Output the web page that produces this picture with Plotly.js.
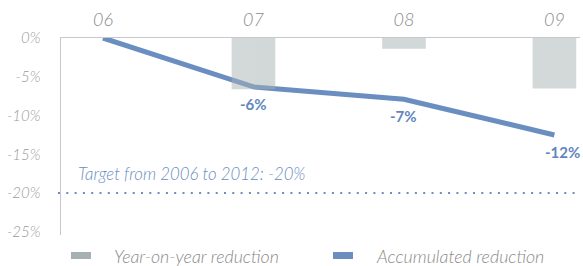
<!DOCTYPE html>
<html>
<head>
<meta charset="utf-8">
<script src="https://cdn.plot.ly/plotly-3.0.1.min.js"></script>
<style>html,body{margin:0;padding:0;background:#fff;}#chart{width:583px;height:266px;}</style>
</head>
<body>
<div id="chart"></div>
<script>
const years = ['06', '07', '08', '09'];
const yearOnYear = [null, -6.6, -1.4, -6.5];
const accumulated = [0, -6.3, -7.9, -12.5];
const accumulatedLabels = ['', '-6%', '-7%', '-12%'];
const yTickVals = [0, -5, -10, -15, -20, -25];
const yTickText = ['0%', '-5%', '-10%', '-15%', '-20%', '-25%'];
const targetValue = -20;
const targetText = 'Target from 2006 to 2012: -20%';
const seriesNames = ['Year-on-year reduction', 'Accumulated reduction'];

const blue = '#6a8ec0';
const grey = '#a7b1b3';
const fontFam = 'Lato, "Open Sans", sans-serif';

const xr = [-0.279, 3.17];
const yr = [-25.4, 0];

const W = 583, H = 266, ML = 61, MR = 3, MT = 38, MB = 31;
const pw = W - ML - MR, ph = H - MT - MB;
const px = v => (v - ML) / pw;
const py = v => (H - MB - v) / ph;

const traces = [
  {
    type: 'scatter', mode: 'lines', x: years, y: accumulated,
    line: {color: blue, width: 5}, xaxis: 'x', yaxis: 'y',
    showlegend: false, hoverinfo: 'skip'
  },
  {
    type: 'bar', x: years, y: yearOnYear, width: 0.29,
    marker: {color: grey, line: {width: 0}}, opacity: 0.5,
    xaxis: 'x2', yaxis: 'y2', showlegend: false, hoverinfo: 'skip'
  }
];

const annotations = [];
years.forEach((yv, i) => {
  if (accumulatedLabels[i]) {
    annotations.push({
      x: i, y: accumulated[i], xref: 'x', yref: 'y', text: '<b>' + accumulatedLabels[i] + '</b>',
      showarrow: false, yanchor: 'top', yshift: -6, xshift: i === 3 ? 8 : 0,
      font: {family: fontFam, size: 15, color: '#5f86bd'}
    });
  }
});
annotations.push({
  x: px(76), xref: 'paper', y: targetValue, yref: 'y', text: targetText,
  showarrow: false, xanchor: 'left', yanchor: 'bottom', yshift: 7,
  font: {family: fontFam, size: 16.8, color: '#6a8ec0', style: 'italic', weight: 300}
});

const legendItems = [
  {name: seriesNames[0], color: grey, sx: 71, tx: 112},
  {name: seriesNames[1], color: blue, sx: 333, tx: 374}
];
const shapes = [
  {type: 'line', xref: 'paper', yref: 'y', x0: px(58), x1: px(580), y0: targetValue, y1: targetValue,
   line: {color: blue, width: 2, dash: '2px,6.3px'}, layer: 'above'}
];
legendItems.forEach(it => {
  shapes.push({type: 'rect', xref: 'paper', yref: 'paper', x0: px(it.sx), x1: px(it.sx + 20),
    y0: py(259), y1: py(252), fillcolor: it.color, line: {width: 0}});
  annotations.push({x: px(it.tx), xref: 'paper', y: py(256), yref: 'paper',
    text: it.name, showarrow: false, xanchor: 'left', yanchor: 'middle',
    font: {family: fontFam, size: 17.8, color: '#8a8a8a', style: 'italic', weight: 300}});
});

const layout = {
  width: W, height: H,
  margin: {l: ML, r: MR, t: MT, b: MB, pad: 0},
  paper_bgcolor: '#fff', plot_bgcolor: '#fff',
  showlegend: false,
  xaxis: {type: 'category', range: xr, side: 'top', showgrid: false, zeroline: false,
    showline: true, linecolor: '#c8c8c8', linewidth: 1.5, ticks: '', ticklen: 0,
    ticklabelstandoff: 3,
    tickfont: {family: fontFam, size: 18, color: '#8a8a8a', style: 'italic', weight: 300}},
  yaxis: {range: yr, showgrid: false, zeroline: false, showline: true, linecolor: '#c8c8c8',
    linewidth: 1.5, tickvals: yTickVals, ticktext: yTickText, ticks: '', ticklabelstandoff: 16,
    tickfont: {family: fontFam, size: 15, color: '#9a9a9a', style: 'italic', weight: 300}},
  xaxis2: {type: 'category', range: xr, overlaying: 'x', visible: false},
  yaxis2: {range: yr, overlaying: 'y', visible: false},
  annotations: annotations,
  shapes: shapes
};

Plotly.newPlot('chart', traces, layout, {displayModeBar: false, staticPlot: true});
</script>
</body>
</html>
